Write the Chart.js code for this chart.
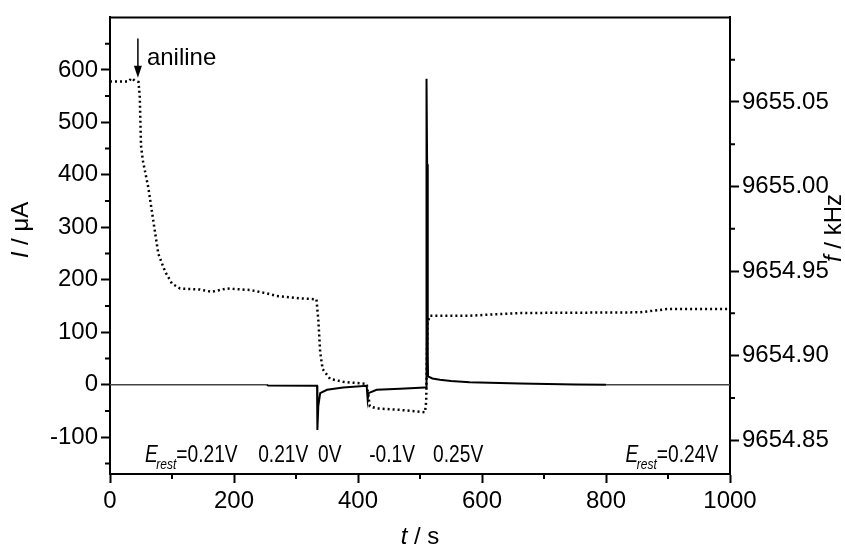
<!DOCTYPE html>
<html>
<head>
<meta charset="utf-8">
<script src="https://cdn.jsdelivr.net/npm/chart.js"></script>
<style>
  html, body { margin: 0; padding: 0; background: #fff; }
  #wrap { position: relative; width: 845px; height: 550px; }
</style>
</head>
<body>
<div id="wrap"><canvas id="qcm"></canvas></div>
<script>
// time (s) and current (uA), solid line, left axis
const currentTime = [0, 253, 255, 330, 334, 334.5, 336, 339, 350, 376, 414, 415.6, 417, 430, 468, 508, 510, 510.5, 511.5, 512.5, 513, 520, 532, 550, 580, 661, 750, 800, 1000];
const currentVals = [0, 0, -1.5, -2, -2, -86, -40, -16, -9.5, -5, -2, -28, -16, -9.5, -7.5, -5, -5, 583, 420, 60, 16, 12, 9.5, 7, 5, 2.4, 0.5, 0, 0];

// time (s) and frequency (kHz), dotted line, right axis
const freqTime = [0, 30, 35, 40, 46, 48, 50, 53, 62, 70, 78, 89, 100, 113, 145, 164, 188, 226, 253, 269, 306, 333, 336, 339, 343, 355, 376, 414, 417, 419, 430, 468, 508, 510, 512, 516, 580, 661, 855, 898, 1000];
const freqVals = [9655.0621, 9655.0621, 9655.0641, 9655.0625, 9655.0618, 9655.0531, 9655.0241, 9655.0153, 9654.9990, 9654.9793, 9654.9601, 9654.9496, 9654.9426, 9654.9397, 9654.9391, 9654.9377, 9654.9397, 9654.9388, 9654.9368, 9654.9353, 9654.9339, 9654.9333, 9654.9211, 9654.9020, 9654.8920, 9654.8862, 9654.8845, 9654.8833, 9654.8758, 9654.8700, 9654.8688, 9654.8679, 9654.8665, 9654.8729, 9654.9194, 9654.9236, 9654.9236, 9654.9252, 9654.9256, 9654.9275, 9654.9275];

const xTicks = [0, 200, 400, 600, 800, 1000];
const xMinor = [100, 300, 500, 700, 900];
const leftTicks = [-100, 0, 100, 200, 300, 400, 500, 600];
const leftMinor = [-150, -50, 50, 150, 250, 350, 450, 550, 650];
const rightTicks = [9654.85, 9654.90, 9654.95, 9655.00, 9655.05];
const rightMinor = [9654.875, 9654.925, 9654.975, 9655.025, 9655.075];

// potential labels along the bottom: [t, text, hasErest, align]
const potLabels = [
  [56.5, "=0.21V", true, "left"],
  [239, "0.21V", false, "left"],
  [335.5, "0V", false, "left"],
  [418, "-0.1V", false, "left"],
  [521, "0.25V", false, "left"],
  [981, "=0.24V", true, "right"]
];
const potLevel = -147;
const arrowT = 45;
const arrowFrom = 660;
const arrowTo = 585;

const TICK_FONT = { family: "Liberation Sans", size: 24 };

const extras = {
  id: "extras",
  afterDraw(chart) {
    const ctx = chart.ctx;
    const a = chart.chartArea;
    const sx = chart.scales.x, sy = chart.scales.y, sr = chart.scales.y1;
    ctx.save();
    ctx.strokeStyle = "#000";
    ctx.fillStyle = "#000";
    ctx.lineWidth = 2;
    // top frame
    ctx.beginPath();
    ctx.moveTo(a.left - 1, a.top);
    ctx.lineTo(a.right + 1, a.top);
    ctx.stroke();
    // minor ticks
    ctx.beginPath();
    xMinor.forEach(v => { const p = sx.getPixelForValue(v); ctx.moveTo(p, a.bottom); ctx.lineTo(p, a.bottom + 5); });
    leftMinor.forEach(v => { const p = sy.getPixelForValue(v); ctx.moveTo(a.left, p); ctx.lineTo(a.left - 5, p); });
    rightMinor.forEach(v => { const p = sr.getPixelForValue(v); ctx.moveTo(a.right, p); ctx.lineTo(a.right + 5, p); });
    ctx.stroke();

    // axis titles
    function mixed(parts, x, y, rot) {
      ctx.save();
      ctx.translate(x, y);
      ctx.rotate(rot);
      ctx.textBaseline = "middle";
      let w = 0;
      parts.forEach(p => { ctx.font = p[1]; w += ctx.measureText(p[0]).width; });
      let cx = -w / 2;
      parts.forEach(p => { ctx.font = p[1]; ctx.textAlign = "left"; ctx.fillText(p[0], cx, 0); cx += ctx.measureText(p[0]).width; });
      ctx.restore();
    }
    const it = "italic 24px 'Liberation Sans'", nr = "24px 'Liberation Sans'";
    mixed([["I", it], [" / \u03bcA", nr]], a.left - 89, 230, -Math.PI / 2);
    mixed([["f", it], [" / kHz", nr]], a.right + 104, 228, -Math.PI / 2);
    mixed([["t", it], [" / s", nr]], (a.left + a.right) / 2, a.bottom + 63, 0);

    // potential annotations (condensed like the original)
    const by = sy.getPixelForValue(potLevel);
    const squeeze = 0.8;
    const big = "24px 'Liberation Sans'", eFont = "italic 24px 'Liberation Sans'", sub = "italic 15px 'Liberation Sans'";
    ctx.textBaseline = "alphabetic";
    ctx.textAlign = "left";
    potLabels.forEach(l => {
      const px = sx.getPixelForValue(l[0]);
      let parts = [];
      if (l[2]) parts.push(["E", eFont, 0, -2], ["rest", sub, 7, 0]);
      parts.push([l[1], big, 0, 0]);
      let w = 0;
      parts.forEach(p => { ctx.font = p[1]; w += ctx.measureText(p[0]).width + p[3]; });
      w *= squeeze;
      ctx.save();
      ctx.translate(l[3] === "right" ? px - w : px, by);
      ctx.scale(squeeze, 1);
      let cx = 0;
      parts.forEach(p => { ctx.font = p[1]; ctx.fillText(p[0], cx, p[2]); cx += ctx.measureText(p[0]).width + p[3]; });
      ctx.restore();
    });

    // aniline arrow
    const ax = sx.getPixelForValue(arrowT);
    const y0 = sy.getPixelForValue(arrowFrom), y1 = sy.getPixelForValue(arrowTo);
    ctx.lineWidth = 1.5;
    ctx.beginPath();
    ctx.moveTo(ax, y0);
    ctx.lineTo(ax, y1 - 8);
    ctx.stroke();
    ctx.beginPath();
    ctx.moveTo(ax - 4, y1 - 12);
    ctx.lineTo(ax + 4, y1 - 12);
    ctx.lineTo(ax, y1);
    ctx.closePath();
    ctx.fill();
    ctx.font = "24px 'Liberation Sans'";
    ctx.textAlign = "left";
    ctx.textBaseline = "middle";
    ctx.fillText("aniline", ax + 9, sy.getPixelForValue(622));
    ctx.restore();
  }
};

function axisGrid() {
  return { drawOnChartArea: false, drawTicks: true, tickLength: 9, tickColor: "#000", tickWidth: 2 };
}

const flat = c => c.p0.parsed.y === 0 && c.p1.parsed.y === 0;

new Chart(document.getElementById("qcm"), {
  type: "line",
  data: {
    datasets: [
      {
        label: "I",
        data: currentTime.map((t, i) => ({ x: t, y: currentVals[i] })),
        borderColor: "#000",
        borderWidth: 2,
        pointRadius: 0,
        tension: 0,
        segment: {
          borderColor: c => flat(c) ? "#444" : undefined,
          borderWidth: c => flat(c) ? 1.5 : undefined
        },
        yAxisID: "y"
      },
      {
        label: "f",
        data: freqTime.map((t, i) => ({ x: t, y: freqVals[i] })),
        borderColor: "#000",
        borderWidth: 2.5,
        borderDash: [2, 3],
        pointRadius: 0,
        tension: 0,
        yAxisID: "y1"
      }
    ]
  },
  options: {
    responsive: true,
    maintainAspectRatio: false,
    animation: false,
    layout: { padding: { top: 11, left: 0, right: 0, bottom: 0 } },
    plugins: { legend: { display: false }, tooltip: { enabled: false } },
    scales: {
      x: {
        type: "linear",
        min: 0,
        max: 1000,
        afterBuildTicks: s => { s.ticks = xTicks.map(v => ({ value: v })); },
        afterFit: s => { s.height = 76; },
        grid: axisGrid(),
        border: { color: "#000", width: 2 },
        ticks: { font: TICK_FONT, color: "#000", maxRotation: 0, padding: 4, callback: v => String(v) }
      },
      y: {
        position: "left",
        min: -170,
        max: 700,
        afterBuildTicks: s => { s.ticks = leftTicks.map(v => ({ value: v })); },
        afterFit: s => { s.width = 110; },
        grid: axisGrid(),
        border: { color: "#000", width: 2 },
        ticks: { font: TICK_FONT, color: "#000", padding: 3, callback: v => String(v) }
      },
      y1: {
        position: "right",
        min: 9654.83,
        max: 9655.10,
        afterBuildTicks: s => { s.ticks = rightTicks.map(v => ({ value: v })); },
        afterFit: s => { s.width = 115; },
        grid: axisGrid(),
        border: { color: "#000", width: 2 },
        ticks: { font: TICK_FONT, color: "#000", padding: 3, callback: v => Number(v).toFixed(2) }
      }
    }
  },
  plugins: [extras]
});
</script>
</body>
</html>
